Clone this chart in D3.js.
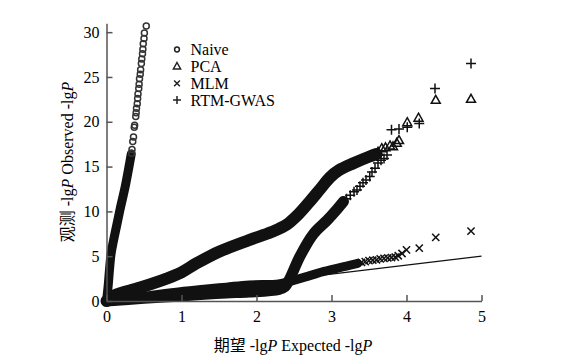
<!DOCTYPE html>
<html lang="zh">
<meta charset="utf-8">
<head>
<script src="https://d3js.org/d3.v7.min.js"></script>
<style>
  body { margin: 0; background: #fff; }
  svg text { font-family: "Liberation Serif", "Times New Roman", "DejaVu Serif", serif; }
  .cjk { font-family: "Noto Sans CJK SC", sans-serif; }
</style>
</head>
<body>
<svg id="qq" width="570" height="363"></svg>
<script>
var serifFont = '"Liberation Serif", "Times New Roman", "DejaVu Serif", serif';

// axis ticks
var xTicks = [0, 1, 2, 3, 4, 5];
var yTicks = [0, 5, 10, 15, 20, 25, 30];

// legend
var seriesNames = ["Naive", "PCA", "MLM", "RTM-GWAS"];

// dense part of each series (drawn as a thick band), [expected, observed]
var naiveBand = [[0,0],[0.02,1.5],[0.04,3.5],[0.06,5.2],[0.09,6.6],[0.13,8.2],[0.18,10.2],[0.25,12.8],[0.30,15.0],[0.33,16.4]];
var pcaBand = [[0,0],[0.1,0.6],[0.45,1.5],[0.8,2.5],[1.0,3.2],[1.2,4.2],[1.5,5.5],[1.9,6.8],[2.2,7.7],[2.4,8.5],[2.55,9.6],[2.7,11.0],[2.85,12.5],[2.98,13.8],[3.1,14.6],[3.3,15.4],[3.5,16.1],[3.6,16.4]];
var mlmBand = [[0,0],[0.3,0.3],[0.9,0.95],[1.3,1.3],[1.6,1.55],[1.9,1.8],[2.3,1.9],[2.45,2.2],[2.7,2.8],[2.9,3.3],[3.2,3.9],[3.35,4.2]];
var rtmBand = [[0,0],[0.5,0.3],[0.9,0.5],[1.3,0.75],[1.6,0.9],[1.9,1.0],[2.3,1.3],[2.38,1.6],[2.45,2.6],[2.58,5.0],[2.76,7.5],[2.94,9.0],[3.07,10.2],[3.16,11.1]];

// sparse tail points, drawn as single markers
var naiveTail = [[0.335,16.5],[0.34,16.9],[0.35,17.8],[0.36,18.3],[0.37,19.4],[0.375,19.6],[0.39,20.6],[0.395,21.0],[0.40,21.5],[0.41,22.0],[0.415,22.6],[0.42,23.1],[0.43,23.7],[0.435,24.2],[0.44,24.8],[0.45,25.3],[0.455,25.8],[0.465,26.5],[0.47,27.0],[0.48,27.6],[0.485,28.1],[0.49,28.7],[0.50,29.3],[0.505,29.9],[0.53,30.7]];
var pcaTail = [[3.62,16.6],[3.67,17.0],[3.72,17.1],[3.78,17.3],[3.82,17.2],[3.87,17.6],[3.90,17.9],[4.01,19.9],[4.16,20.4],[4.39,22.4],[4.86,22.5]];
var mlmTail = [[3.4,4.3],[3.45,4.4],[3.5,4.5],[3.55,4.55],[3.6,4.6],[3.65,4.7],[3.7,4.75],[3.75,4.8],[3.8,4.85],[3.85,4.9],[3.89,5.05],[3.94,5.3],[4.0,5.7],[4.17,5.9],[4.39,7.1],[4.86,7.8]];
var rtmTail = [[3.2,11.4],[3.25,11.8],[3.3,12.2],[3.34,12.4],[3.38,12.8],[3.42,13.2],[3.46,13.5],[3.51,13.9],[3.54,14.4],[3.58,14.8],[3.62,15.4],[3.66,15.7],[3.70,15.9],[3.74,16.3],[3.80,19.1],[3.90,19.2],[4.01,19.4],[4.17,19.8],[4.38,23.7],[4.86,26.5]];

// null line y = x
var nullLine = [[0,0],[5,5]];

var svg = d3.select("#qq");
var x = d3.scaleLinear().domain([0, 5]).range([106.5, 481.5]);
var y = d3.scaleLinear().domain([0, 31]).range([301, 23.2]);

var ink = "#111";

// marker shapes
function marker(kind, s) {
  s = s || 1;
  if (kind == "circle") return "M" + (3*s) + ",0A" + (3*s) + "," + (3*s) + " 0 1,1 " + (-3*s) + ",0A" + (3*s) + "," + (3*s) + " 0 1,1 " + (3*s) + ",0Z";
  if (kind == "triangle") return "M0," + (-5*s) + "L" + (4.5*s) + "," + (3*s) + "L" + (-4.5*s) + "," + (3*s) + "Z";
  if (kind == "times") return "M" + (-3.6*s) + "," + (-3.6*s) + "L" + (3.6*s) + "," + (3.6*s) + "M" + (3.6*s) + "," + (-3.6*s) + "L" + (-3.6*s) + "," + (3.6*s);
  return "M" + (-5*s) + ",0H" + (5*s) + "M0," + (-5*s) + "V" + (5*s);
}
var kinds = ["circle", "triangle", "times", "plus"];

// null line
svg.append("path")
  .attr("d", d3.line().x(function(d){ return x(d[0]); }).y(function(d){ return y(d[1]); })(nullLine))
  .attr("fill", "none").attr("stroke", ink).attr("stroke-width", 1.3);

// bands
var bands = [
  {data: mlmBand, w: 9},
  {data: rtmBand, w: 11},
  {data: pcaBand, w: 12},
  {data: naiveBand, w: 9}
];
bands.forEach(function(b) {
  svg.append("path")
    .attr("d", d3.line()
      .x(function(d) { return x(d[0]); })
      .y(function(d) { return y(d[1]); })
      .curve(d3.curveCatmullRom)(b.data))
    .attr("fill", "none")
    .attr("stroke", ink)
    .attr("stroke-width", b.w)
    .attr("stroke-linecap", "round")
    .attr("stroke-linejoin", "round");
});

// tail markers
var tails = [naiveTail, pcaTail, mlmTail, rtmTail];
tails.forEach(function(t, i) {
  svg.append("g")
    .selectAll("path")
    .data(t)
    .enter()
    .append("path")
      .attr("transform", function(d) { return "translate(" + x(d[0]) + "," + y(d[1]) + ")"; })
      .attr("d", marker(kinds[i]))
      .attr("fill", "none")
      .attr("stroke", i == 0 ? "#333" : ink)
      .attr("stroke-width", 1.5);
});

// axes
var xAxis = svg.append("g")
  .attr("transform", "translate(0," + y(0) + ")")
  .call(d3.axisBottom(x).tickValues(xTicks).tickSize(-6).tickSizeOuter(0).tickPadding(10).tickFormat(d3.format("d")));
var yAxis = svg.append("g")
  .attr("transform", "translate(" + x(0) + ",0)")
  .call(d3.axisLeft(y).tickValues(yTicks).tickSize(-6).tickSizeOuter(0).tickPadding(7).tickFormat(d3.format("d")));
[xAxis, yAxis].forEach(function(a) {
  a.attr("font-family", serifFont).attr("font-size", 16);
  a.selectAll("path, line").attr("stroke", "#555").attr("stroke-width", 1.5);
  a.selectAll("text").attr("fill", "#000");
});

// axis titles
var xt = svg.append("text")
  .attr("x", 293).attr("y", 351)
  .attr("text-anchor", "middle")
  .attr("font-family", serifFont)
  .attr("font-size", 16);
xt.append("tspan").attr("class", "cjk").text("期望");
xt.append("tspan").text(" -lg");
xt.append("tspan").attr("font-style", "italic").text("P");
xt.append("tspan").text(" Expected -lg");
xt.append("tspan").attr("font-style", "italic").text("P");

var yt = svg.append("text")
  .attr("transform", "translate(73,162) rotate(-90)")
  .attr("text-anchor", "middle")
  .attr("font-family", serifFont)
  .attr("font-size", 16);
yt.append("tspan").attr("class", "cjk").text("观测");
yt.append("tspan").text(" -lg");
yt.append("tspan").attr("font-style", "italic").text("P");
yt.append("tspan").text(" Observed -lg");
yt.append("tspan").attr("font-style", "italic").text("P");

// legend
var legendY = [49.5, 66.5, 83.3, 100];
var lg = svg.append("g").selectAll("g")
  .data(seriesNames)
  .enter()
  .append("g")
    .attr("transform", function(d, i) { return "translate(177," + legendY[i] + ")"; });
lg.append("path")
  .attr("d", function(d, i) { return marker(kinds[i], 0.8); })
  .attr("fill", "none")
  .attr("stroke", "#222")
  .attr("stroke-width", 1.5);
lg.append("text")
  .attr("x", 13.5).attr("y", 5.5)
  .attr("font-family", serifFont)
  .attr("font-size", 16)
  .text(function(d) { return d; });
</script>
</body>
</html>
